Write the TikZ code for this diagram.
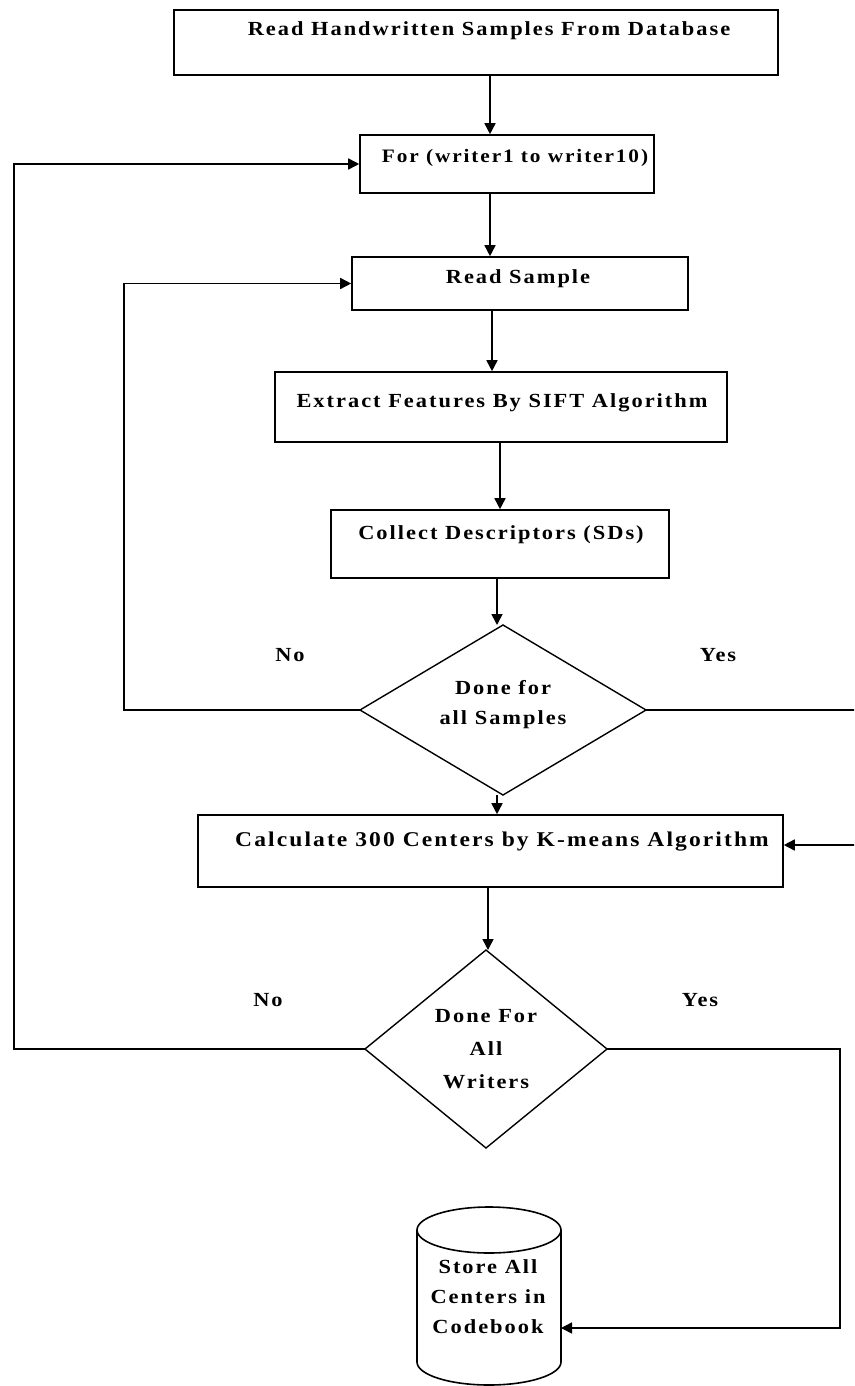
\documentclass[tikz,border=0pt]{standalone}
\usepackage{fontspec}
\setmainfont{Liberation Serif}[FakeStretch=1.12,LetterSpace=10]
\usetikzlibrary{arrows.meta,shapes.geometric}
\begin{document}
\begin{tikzpicture}[x=1pt,y=-1pt,
  every node/.style={font=\bfseries\fontsize{20}{30}\selectfont},
  box/.style={draw,line width=1.6pt,rectangle,inner sep=0pt},
  dia/.style={draw,line width=1.4pt},
  conn/.style={line width=1.6pt,-{Triangle[length=11pt,width=11pt]}},
  lbl/.style={inner sep=0pt}]
\useasboundingbox (0,0) rectangle (854,1386);
\clip (0,0) rectangle (854,1386);
% boxes
\node[box,minimum width=604pt,minimum height=65pt] (b1) at (476,42.5) {};
\node[lbl] (t1) at (489,31) {Read Handwritten Samples From Database};
\node[box,minimum width=294pt,minimum height=58pt] (b2) at (507,164) {};
\node[lbl,font=\bfseries\fontsize{19}{30}\selectfont] (t2) at (515,158) {For (writer1 to writer10)};
\node[box,minimum width=336pt,minimum height=53pt] (b3) at (520,283.5) {};
\node[lbl] (t3) at (518,279) {Read Sample};
\node[box,minimum width=452pt,minimum height=70pt] (b4) at (501,407) {};
\node[lbl] (t4) at (502,403) {Extract Features By SIFT Algorithm};
\node[box,minimum width=338pt,minimum height=68pt] (b5) at (500,544) {};
\node[lbl] (t5) at (501,535) {Collect Descriptors (SDs)};
\node[box,minimum width=585pt,minimum height=72pt] (b6) at (490.5,851) {};
\node[lbl,font=\bfseries\fontsize{21}{30}\selectfont] (t6) at (502,842) {Calculate 300 Centers by K-means Algorithm};
% diamond 1
\coordinate (d1t) at (503,625);
\coordinate (d1b) at (503,795);
\coordinate (d1l) at (360,710);
\coordinate (d1r) at (646,710);
\draw[dia] (d1t) -- (d1r) -- (d1b) -- (d1l) -- cycle;
\node[lbl,align=center] (t7) at (503,705) {Done for\\all Samples};
% diamond 2
\coordinate (d2t) at (486,950);
\coordinate (d2b) at (486,1148);
\coordinate (d2l) at (365,1049);
\coordinate (d2r) at (607,1049);
\draw[dia] (d2t) -- (d2r) -- (d2b) -- (d2l) -- cycle;
\node[lbl,align=center,font=\bfseries\fontsize{20}{33}\selectfont] (t8) at (486,1049) {Done For\\All\\Writers};
% cylinder
\draw[line width=1.6pt,fill=white] (417,1230) -- (417,1362) arc[start angle=180,end angle=0,x radius=72,y radius=23] -- (561,1230);
\draw[line width=1.6pt] (489,1230) ellipse[x radius=72,y radius=23];
\node[lbl,align=center,font=\bfseries\fontsize{20}{30}\selectfont] (t9) at (488,1297) {Store All\\Centers in\\Codebook};
\coordinate (cylR) at (561,1328);
% labels
\node[lbl] (no1) at (290,655) {No};
\node[lbl] (yes1) at (718,655) {Yes};
\node[lbl] (no2) at (268,1000) {No};
\node[lbl] (yes2) at (700,1000) {Yes};
% connectors
\draw[conn] (b1.south -| 490,0) -- (b2.north -| 490,0);
\draw[conn] (b2.south -| 490,0) -- (b3.north -| 490,0);
\draw[conn] (b3.south -| 492,0) -- (b4.north -| 492,0);
\draw[conn] (b4.south -| 500,0) -- (b5.north -| 500,0);
\draw[conn] (b5.south -| 497,0) -- (d1t -| 497,0);
\draw[conn] (d1b -| 497,0) -- (b6.north -| 497,0);
\draw[conn] (b6.south -| 488,0) -- (d2t -| 488,0);
\coordinate (lp1) at (124,710);
\draw[conn] (d1l) -- (lp1) -- (lp1 |- b3.west) -- (b3.west);
\coordinate (rp1) at (870,710);
\draw[conn] (d1r) -- (rp1) -- (rp1 |- 0,845) -- (b6.east |- 0,845);
\coordinate (lp2) at (14,1049);
\draw[conn] (d2l) -- (lp2) -- (lp2 |- b2.west) -- (b2.west);
\coordinate (rp2) at (840,1049);
\draw[conn] (d2r) -- (rp2) -- (rp2 |- cylR) -- (cylR);
\end{tikzpicture}
\end{document}
